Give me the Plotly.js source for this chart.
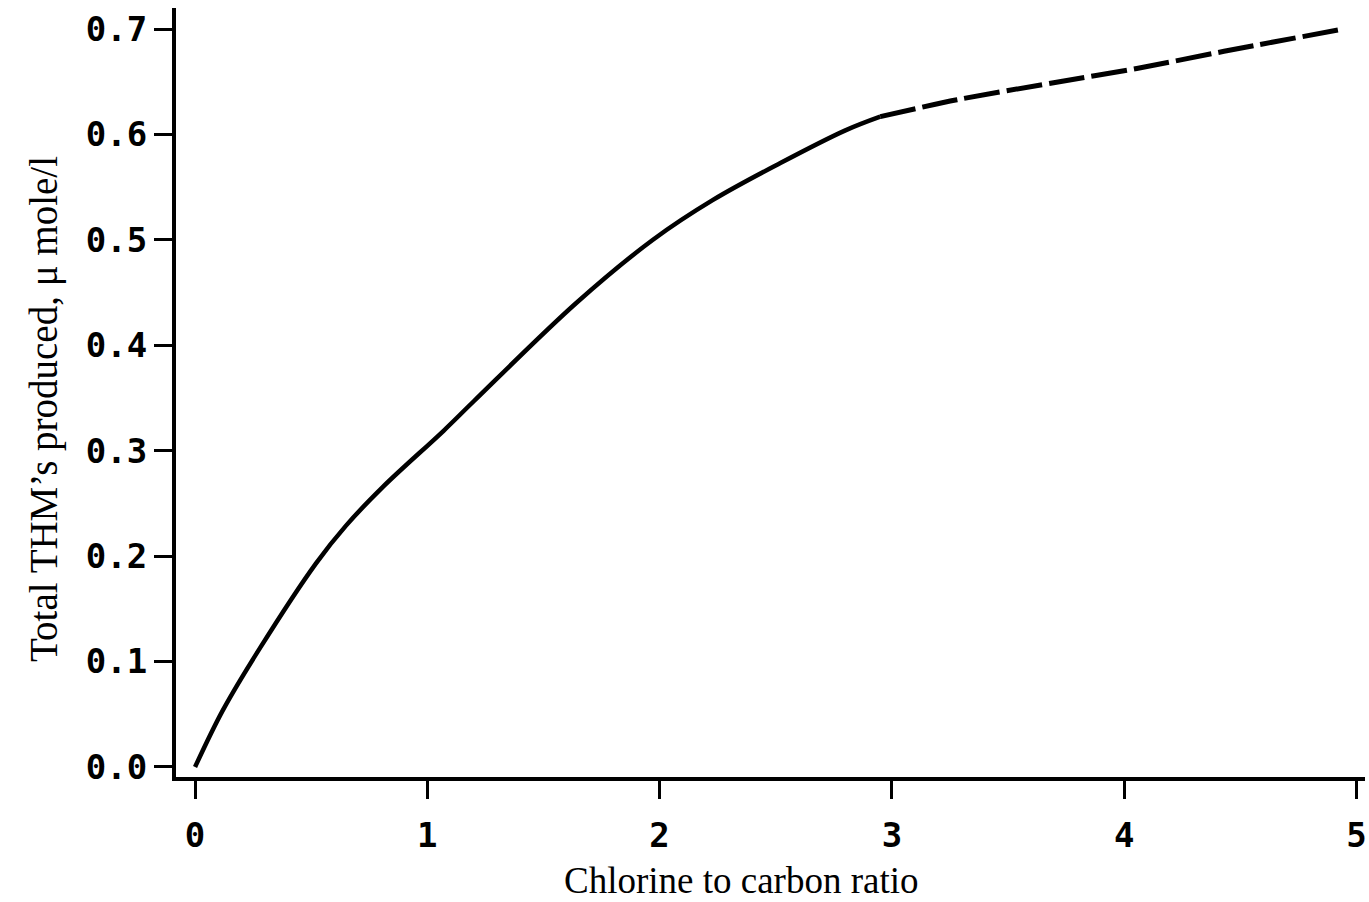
<!DOCTYPE html>
<html>
<head>
<meta charset="utf-8">
<script src="https://cdn.plot.ly/plotly-3.0.1.min.js"></script>
<style>
  html, body { margin: 0; padding: 0; background: #fff; }
  #chart { width: 1369px; height: 902px; }
</style>
</head>
<body>
<div id="chart"></div>
<script>
// Total THM formation against chlorine-to-carbon ratio.
// Measured part of the curve (solid line)
const ratioSolid = [0, 0.12, 0.28, 0.52, 0.65, 0.81, 1.07, 1.20, 1.64, 1.97, 2.23, 2.52, 2.80, 2.95];
const thmSolid   = [0, 0.054, 0.113, 0.193, 0.229, 0.266, 0.319, 0.347, 0.440, 0.500, 0.538, 0.573, 0.604, 0.617];

// Extrapolated part of the curve (dashed line)
const ratioDashed = [2.95, 3.28, 3.69, 4.06, 4.43, 4.94];
const thmDashed   = [0.617, 0.633, 0.649, 0.663, 0.679, 0.700];

// Axis ticks
const xTicks = [0, 1, 2, 3, 4, 5];
const xTickText = ['0', '1', '2', '3', '4', '5'];
const yTicks = [0, 0.1, 0.2, 0.3, 0.4, 0.5, 0.6, 0.7];
const yTickText = ['0.0', '0.1', '0.2', '0.3', '0.4', '0.5', '0.6', '0.7'];

const xTitle = 'Chlorine to carbon ratio';
const yTitle = 'Total THM\u2019s produced, \u03bc mole/l';

const tickFont = { family: 'DejaVu Sans Mono', size: 34, color: '#000', weight: 'bold' };
const xTitleFont = { family: 'Liberation Serif, Times New Roman, serif', size: 37, color: '#000' };
const yTitleFont = { family: 'Liberation Serif, Times New Roman, serif', size: 39, color: '#000' };

const traces = [
  {
    x: ratioSolid, y: thmSolid, type: 'scatter', mode: 'lines',
    line: { color: '#000', width: 4.5, shape: 'spline', smoothing: 1 },
    hoverinfo: 'x+y', showlegend: false
  },
  {
    x: ratioDashed, y: thmDashed, type: 'scatter', mode: 'lines',
    line: { color: '#000', width: 5, shape: 'spline', smoothing: 0.8, dash: '36px,7px' },
    hoverinfo: 'x+y', showlegend: false
  }
];

const layout = {
  width: 1369, height: 902,
  margin: { l: 176, r: 4, t: 8, b: 125 },
  paper_bgcolor: '#fff', plot_bgcolor: '#fff',
  showlegend: false,
  xaxis: {
    range: [-0.082, 5.037],
    tickmode: 'array', tickvals: xTicks, ticktext: xTickText,
    ticks: 'outside', ticklen: 18, tickwidth: 3, tickcolor: '#000',
    ticklabelstandoff: 7,
    showline: true, linewidth: 4, linecolor: '#000',
    showgrid: false, zeroline: false,
    tickfont: tickFont
  },
  yaxis: {
    range: [-0.0095, 0.7201],
    tickmode: 'array', tickvals: yTicks, ticktext: yTickText,
    ticks: 'outside', ticklen: 18, tickwidth: 3, tickcolor: '#000',
    showline: true, linewidth: 4, linecolor: '#000',
    showgrid: false, zeroline: false,
    tickfont: tickFont
  },
  annotations: [
    {
      text: xTitle, xref: 'paper', yref: 'paper',
      x: (741 - 176) / (1369 - 176 - 4), y: -(880 - 777) / (902 - 8 - 125),
      xanchor: 'center', yanchor: 'middle', showarrow: false,
      font: xTitleFont
    },
    {
      text: yTitle, xref: 'paper', yref: 'paper',
      x: -(176 - 44) / (1369 - 176 - 4), y: (777 - 409) / (902 - 8 - 125),
      xanchor: 'center', yanchor: 'middle', showarrow: false, textangle: -90,
      font: yTitleFont
    }
  ]
};

Plotly.newPlot('chart', traces, layout, { displayModeBar: false, staticPlot: true });
</script>
</body>
</html>
